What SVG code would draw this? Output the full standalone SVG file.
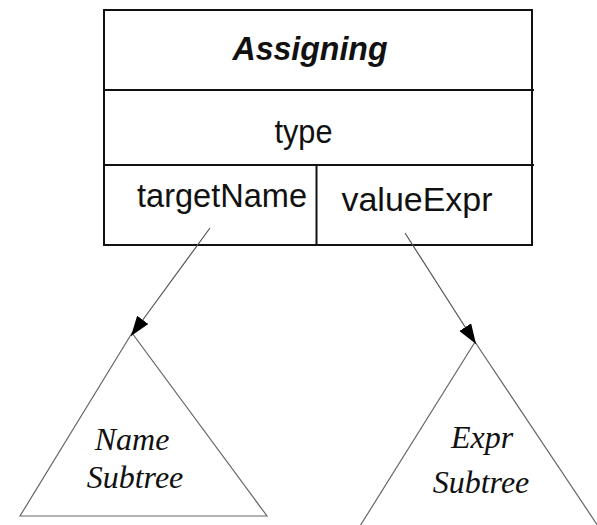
<svg xmlns="http://www.w3.org/2000/svg" width="597" height="525" viewBox="0 0 597 525">
<style>
.box{fill:none;stroke:#111;stroke-width:2}
.sans{font-family:"Liberation Sans",Arial,sans-serif;font-size:33px;fill:#111;text-anchor:middle}
.serif{font-family:"Liberation Serif","Times New Roman",serif;font-style:italic;font-size:32px;fill:#111;text-anchor:middle}
.tri{fill:none;stroke:#666;stroke-width:1.2}
.conn{fill:none;stroke:#555;stroke-width:1.2}
</style>
<defs>
<marker id="ah" viewBox="0 0 20 14" refX="20" refY="7" markerWidth="20" markerHeight="14" markerUnits="userSpaceOnUse" orient="auto">
<path d="M0,0 L20,7 L0,14 Z" fill="#000"/>
</marker>
</defs>
<rect width="597" height="525" fill="#fff"/>
<g id="assigning">
<rect class="box" x="104" y="10" width="428" height="235"/>
<line class="box" x1="104" y1="90" x2="534" y2="90"/>
<line class="box" x1="104" y1="165" x2="534" y2="165"/>
<line class="box" x1="316.5" y1="165" x2="316.5" y2="245"/>
<text class="sans" x="310" y="60" font-weight="bold" font-style="italic" textLength="155" lengthAdjust="spacingAndGlyphs">Assigning</text>
<text class="sans" x="303.5" y="143" textLength="58" lengthAdjust="spacingAndGlyphs">type</text>
<text class="sans" x="222" y="207" textLength="170" lengthAdjust="spacingAndGlyphs">targetName</text>
<text class="sans" x="417" y="211" textLength="151" lengthAdjust="spacingAndGlyphs">valueExpr</text>
</g>
<g id="name-subtree">
<polygon class="tri" points="132,333 20,516 267,516"/>
<text class="serif" x="132" y="450">Name</text>
<text class="serif" x="135" y="488">Subtree</text>
</g>
<g id="expr-subtree">
<polygon class="tri" points="475,342 360,526 598,526"/>
<text class="serif" x="482" y="448">Expr</text>
<text class="serif" x="481" y="493">Subtree</text>
</g>
<g id="connectors">
<line class="conn" x1="210" y1="228" x2="131" y2="336" marker-end="url(#ah)"/>
<line class="conn" x1="405" y1="233" x2="476" y2="344" marker-end="url(#ah)"/>
</g>
</svg>
